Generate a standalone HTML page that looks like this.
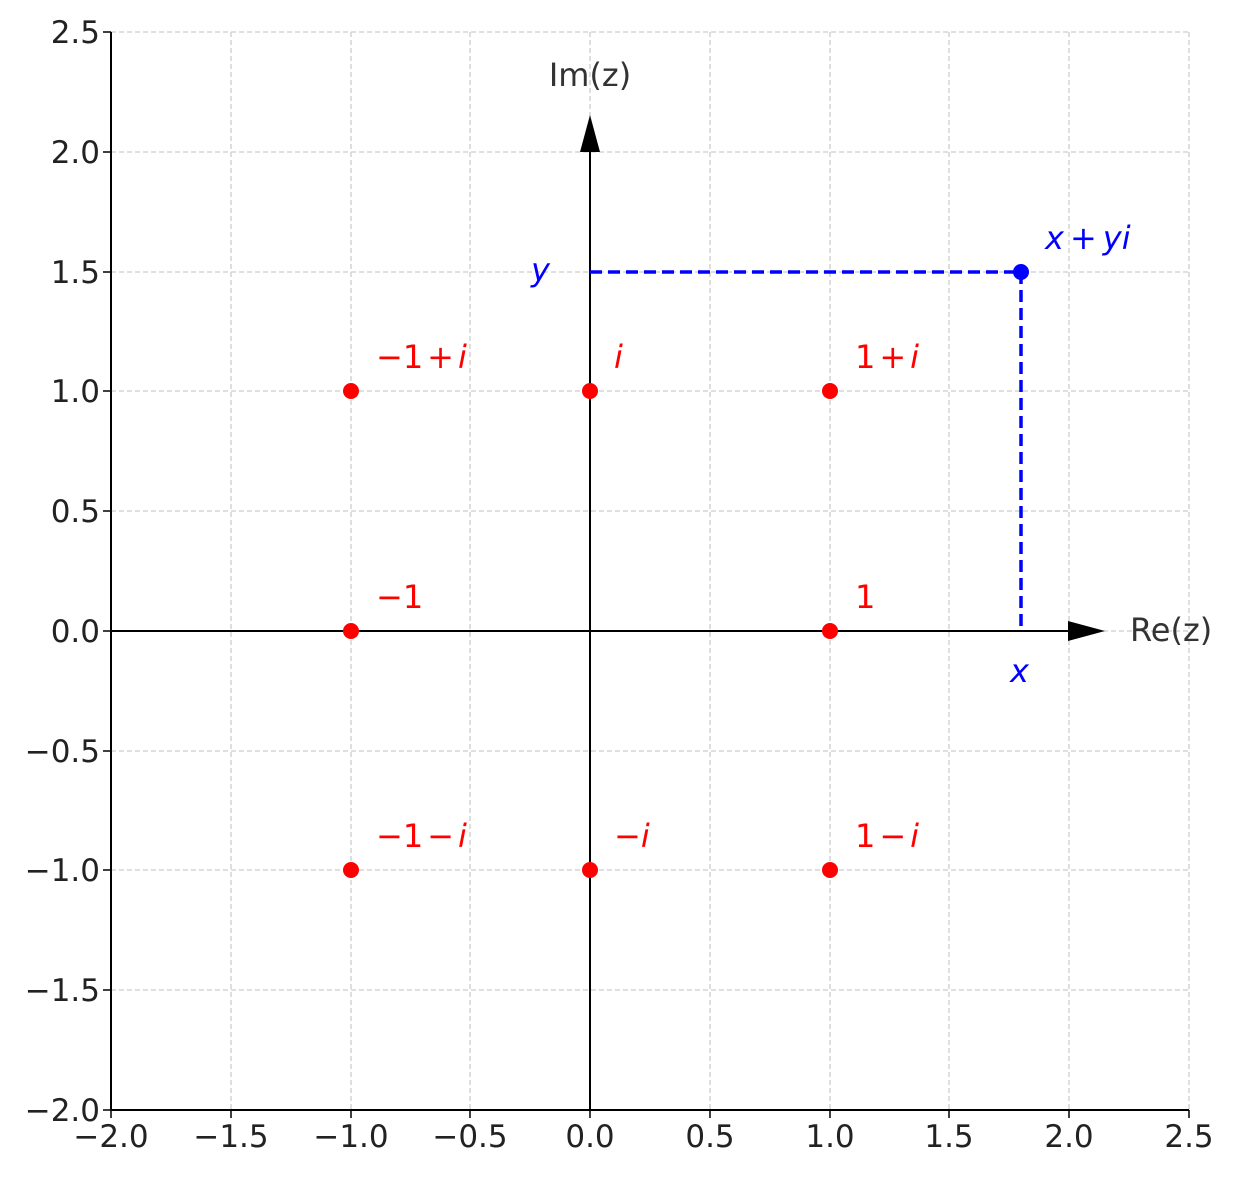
<!DOCTYPE html>
<html><head><meta charset="utf-8"><style>body{margin:0;background:#fff}</style></head>
<body>
<svg width="1235" height="1173" xmlns="http://www.w3.org/2000/svg" font-family="DejaVu Sans, Liberation Sans, sans-serif">
<g stroke="#cccccc" stroke-width="1.3" stroke-dasharray="5,3">
<line x1="231" y1="32" x2="231" y2="1110"/><line x1="351" y1="32" x2="351" y2="1110"/><line x1="470" y1="32" x2="470" y2="1110"/><line x1="590" y1="32" x2="590" y2="1110"/><line x1="710" y1="32" x2="710" y2="1110"/><line x1="830" y1="32" x2="830" y2="1110"/><line x1="949" y1="32" x2="949" y2="1110"/><line x1="1069" y1="32" x2="1069" y2="1110"/><line x1="1189" y1="32" x2="1189" y2="1110"/>
<line x1="111" y1="32" x2="1189" y2="32"/><line x1="111" y1="152" x2="1189" y2="152"/><line x1="111" y1="272" x2="1189" y2="272"/><line x1="111" y1="391" x2="1189" y2="391"/><line x1="111" y1="511" x2="1189" y2="511"/><line x1="111" y1="631" x2="1189" y2="631"/><line x1="111" y1="751" x2="1189" y2="751"/><line x1="111" y1="870" x2="1189" y2="870"/><line x1="111" y1="990" x2="1189" y2="990"/>
</g>
<g stroke="#000" stroke-width="2">
<line x1="111" y1="32" x2="111" y2="1110"/><line x1="111" y1="1110" x2="1189" y2="1110"/>
<line x1="111" y1="631" x2="1070" y2="631"/><line x1="590" y1="1110" x2="590" y2="150"/>
</g>
<polygon points="1068,621 1105,631 1068,641" fill="#000"/>
<polygon points="580,152 590,115 600,152" fill="#000"/>
<g stroke="#000" stroke-width="1.5">
<line x1="111" y1="1110" x2="111" y2="1118"/><line x1="231" y1="1110" x2="231" y2="1118"/><line x1="351" y1="1110" x2="351" y2="1118"/><line x1="470" y1="1110" x2="470" y2="1118"/><line x1="590" y1="1110" x2="590" y2="1118"/><line x1="710" y1="1110" x2="710" y2="1118"/><line x1="830" y1="1110" x2="830" y2="1118"/><line x1="949" y1="1110" x2="949" y2="1118"/><line x1="1069" y1="1110" x2="1069" y2="1118"/><line x1="1189" y1="1110" x2="1189" y2="1118"/>
<line x1="103" y1="32" x2="111" y2="32"/><line x1="103" y1="152" x2="111" y2="152"/><line x1="103" y1="272" x2="111" y2="272"/><line x1="103" y1="391" x2="111" y2="391"/><line x1="103" y1="511" x2="111" y2="511"/><line x1="103" y1="631" x2="111" y2="631"/><line x1="103" y1="751" x2="111" y2="751"/><line x1="103" y1="870" x2="111" y2="870"/><line x1="103" y1="990" x2="111" y2="990"/><line x1="103" y1="1110" x2="111" y2="1110"/>
</g>
<g font-size="31" fill="#222" text-anchor="middle">
<text x="111" y="1147">−2.0</text><text x="231" y="1147">−1.5</text><text x="351" y="1147">−1.0</text><text x="470" y="1147">−0.5</text><text x="590" y="1147">0.0</text><text x="710" y="1147">0.5</text><text x="830" y="1147">1.0</text><text x="949" y="1147">1.5</text><text x="1069" y="1147">2.0</text><text x="1189" y="1147">2.5</text>
</g>
<g font-size="31" fill="#222" text-anchor="end">
<text x="100" y="43">2.5</text><text x="100" y="163">2.0</text><text x="100" y="283">1.5</text><text x="100" y="402">1.0</text><text x="100" y="522">0.5</text><text x="100" y="642">0.0</text><text x="100" y="762">−0.5</text><text x="100" y="881">−1.0</text><text x="100" y="1001">−1.5</text><text x="100" y="1121">−2.0</text>
</g>
<text x="590" y="86" font-size="32" fill="#333" text-anchor="middle">Im(z)</text>
<text x="1130" y="641" font-size="32" fill="#333">Re(z)</text>
<g stroke="#0000ff" stroke-width="3.5" stroke-dasharray="12,6" fill="none">
<line x1="590" y1="272" x2="1021" y2="272"/><line x1="1021" y1="272" x2="1021" y2="631"/>
</g>
<circle cx="1021" cy="272" r="8" fill="#0000ff"/>
<g font-size="32" fill="#0000ff" font-style="italic">
<text x="1045" y="249">x<tspan dx="6" font-style="normal">+</tspan><tspan dx="6">yi</tspan></text>
<text x="531" y="281">y</text><text x="1010" y="682">x</text>
</g>
<g fill="#ff0000">
<circle cx="351" cy="391" r="8"/><circle cx="590" cy="391" r="8"/><circle cx="830" cy="391" r="8"/>
<circle cx="351" cy="631" r="8"/><circle cx="830" cy="631" r="8"/>
<circle cx="351" cy="870" r="8"/><circle cx="590" cy="870" r="8"/><circle cx="830" cy="870" r="8"/>
</g>
<g font-size="32" fill="#ff0000">
<text x="376" y="368">−1<tspan dx="4">+</tspan><tspan dx="4" font-style="italic">i</tspan></text>
<text x="614" y="368" font-style="italic">i</text>
<text x="855" y="368">1<tspan dx="4">+</tspan><tspan dx="4" font-style="italic">i</tspan></text>
<text x="376" y="608">−1</text>
<text x="855" y="608">1</text>
<text x="376" y="847">−1<tspan dx="4">−</tspan><tspan dx="4" font-style="italic">i</tspan></text>
<text x="614" y="847">−<tspan font-style="italic">i</tspan></text>
<text x="855" y="847">1<tspan dx="4">−</tspan><tspan dx="4" font-style="italic">i</tspan></text>
</g>
</svg>
</body></html>
